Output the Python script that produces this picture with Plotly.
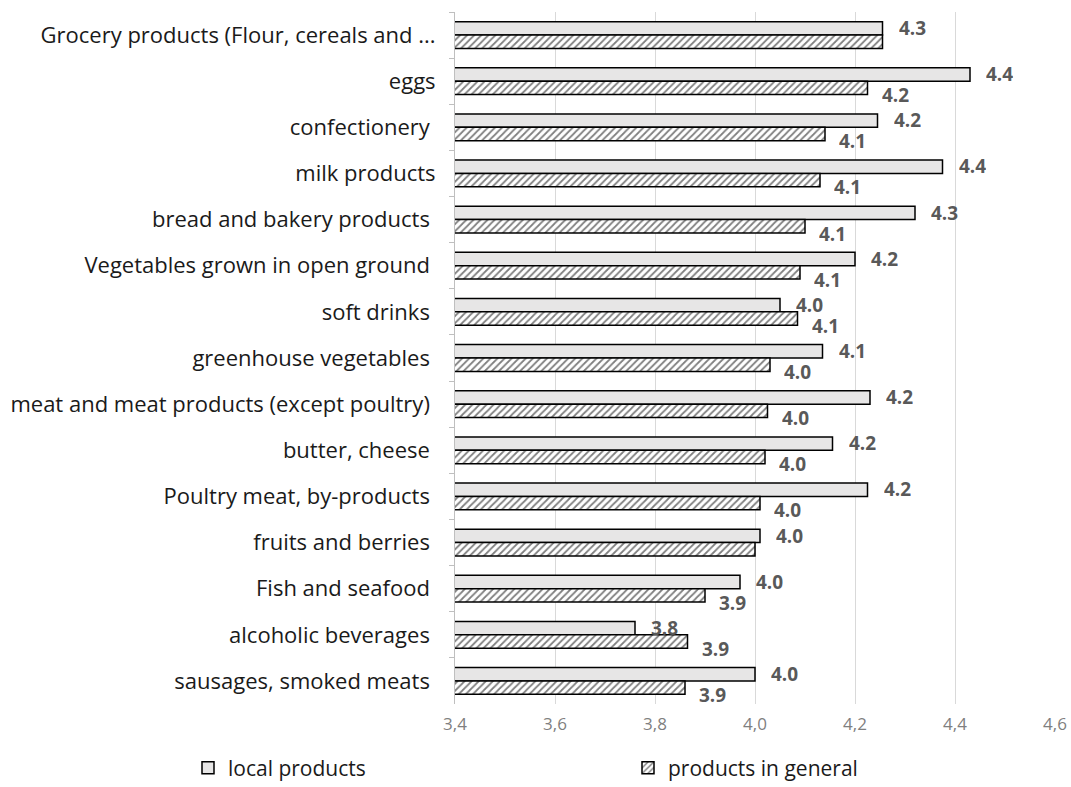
import plotly.graph_objects as go

categories = [
    "Grocery products (Flour, cereals and ...",
    "eggs",
    "confectionery ",
    "milk products",
    "bread and bakery products ",
    "Vegetables grown in open ground ",
    "soft drinks ",
    "greenhouse vegetables ",
    "meat and meat products (except poultry) ",
    "butter, cheese ",
    "Poultry meat, by-products ",
    "fruits and berries ",
    "Fish and seafood ",
    "alcoholic beverages ",
    "sausages, smoked meats ",
]
local_products = [4.255, 4.43, 4.245, 4.375, 4.32, 4.20, 4.05, 4.135, 4.23, 4.155, 4.225, 4.01, 3.97, 3.76, 4.00]
products_general = [4.255, 4.225, 4.14, 4.13, 4.10, 4.09, 4.085, 4.03, 4.025, 4.02, 4.01, 4.00, 3.90, 3.865, 3.86]
general_label_shown = [False, True, True, True, True, True, True, True, True, True, True, False, True, True, True]
tick_values = [3.4, 3.6, 3.8, 4.0, 4.2, 4.4, 4.6]
tick_labels = ["3,4", "3,6", "3,8", "4,0", "4,2", "4,4", "4,6"]

fig = go.Figure()
fig.add_trace(go.Bar(
    y=categories, x=local_products, orientation="h", name="local products",
    marker=dict(color="#e7e6e6", line=dict(color="#000000", width=1.5)),
))
fig.add_trace(go.Bar(
    y=categories, x=products_general, orientation="h", name="products in general",
    marker=dict(color="#ffffff", line=dict(color="#000000", width=1.5),
                pattern=dict(shape="/", fgcolor="#000000", bgcolor="#ffffff", size=5, solidity=0.35)),
))

label_font = dict(family="Open Sans, Arial", size=19, color="#595959")
for c, v in zip(categories, local_products):
    fig.add_annotation(x=v, y=c, xref="x", yref="y", text=f"<b>{v:.1f}</b>", showarrow=False,
                       xanchor="left", yanchor="middle", xshift=14, yshift=7, height=20,
                       font=label_font)
for c, v, s in zip(categories, products_general, general_label_shown):
    if s:
        fig.add_annotation(x=v, y=c, xref="x", yref="y", text=f"<b>{v:.1f}</b>", showarrow=False,
                           xanchor="left", yanchor="middle", xshift=12, yshift=-14, height=20,
                           font=label_font)

fig.update_layout(
    width=1071, height=787,
    margin=dict(l=455, r=16, t=12, b=83, autoexpand=False),
    paper_bgcolor="white", plot_bgcolor="white",
    barmode="group", bargap=0.42, bargroupgap=0,
    font=dict(family="Open Sans, Arial", color="#000000"),
    showlegend=True,
    legend=dict(orientation="h", x=-0.445, xanchor="left", y=-0.0925, yanchor="middle",
                entrywidth=395, entrywidthmode="pixels", itemwidth=30,
                font=dict(size=21, color="#1a1a1a", family="Open Sans, Arial")),
    xaxis=dict(range=[3.4, 4.6], tickvals=tick_values, ticktext=tick_labels,
               showgrid=True, gridcolor="#d9d9d9", gridwidth=1, zeroline=False,
               showline=False, ticks="", ticklabelstandoff=8,
               tickfont=dict(size=17, color="#7f7f7f")),
    yaxis=dict(autorange="reversed", showline=True, linecolor="#bfbfbf", linewidth=1,
               ticks="outside", tickson="boundaries", ticklen=5, tickcolor="#bfbfbf",
               tickfont=dict(size=22, color="#1a1a1a"), ticklabelstandoff=14),
)

fig.write_html("out.html")
